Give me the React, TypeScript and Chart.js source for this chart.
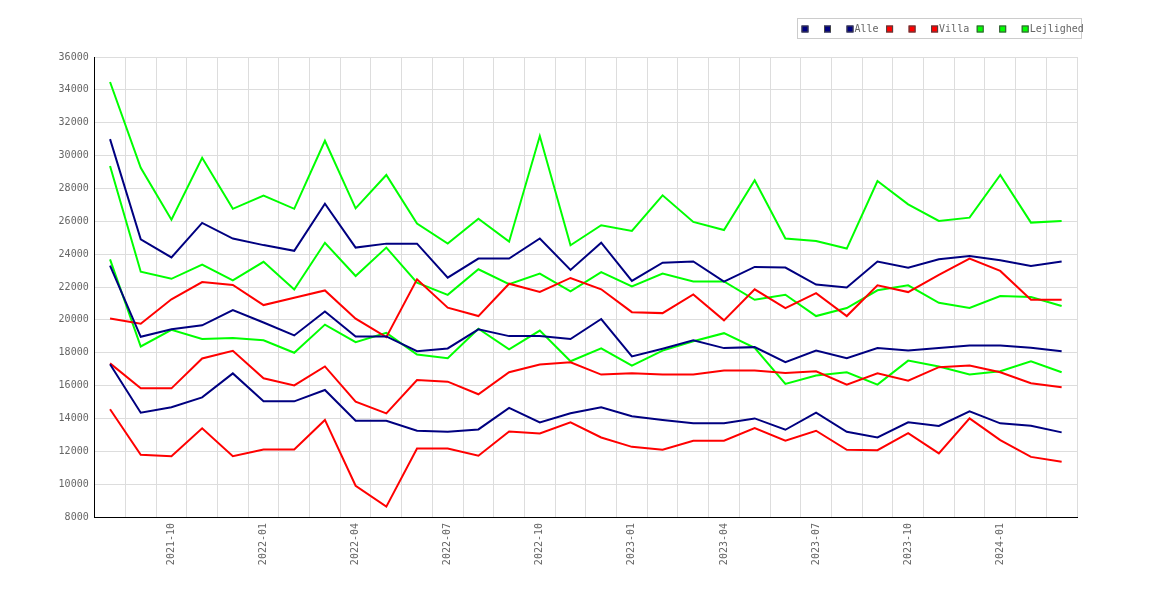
import React, { useEffect, useRef } from 'react';
import { Chart, registerables } from 'chart.js';

Chart.register(...registerables);

// months on the x axis (one point per month)
const MONTHS = [
  '2021-08', '2021-09', '2021-10', '2021-11', '2021-12',
  '2022-01', '2022-02', '2022-03', '2022-04', '2022-05', '2022-06',
  '2022-07', '2022-08', '2022-09', '2022-10', '2022-11', '2022-12',
  '2023-01', '2023-02', '2023-03', '2023-04', '2023-05', '2023-06',
  '2023-07', '2023-08', '2023-09', '2023-10', '2023-11', '2023-12',
  '2024-01', '2024-02', '2024-03',
];

// Alle (high / mid / low)
const ALLE_HIGH = [31000, 24900, 23800, 25900, 24950, 24550, 24200, 27070, 24400, 24640, 24640, 22570, 23730, 23730, 24950, 23040, 24700, 22370, 23480, 23550, 22330, 23220, 23180, 22150, 21970, 23550, 23180, 23690, 23890, 23630, 23280, 23550];
const ALLE_MID = [23300, 18970, 19430, 19670, 20600, 19840, 19050, 20510, 18990, 18990, 18090, 18260, 19420, 19010, 19010, 18830, 20050, 17770, 18240, 18750, 18280, 18340, 17420, 18130, 17670, 18280, 18130, 18280, 18440, 18440, 18300, 18090];
const ALLE_LOW = [17300, 14350, 14680, 15280, 16740, 15040, 15040, 15730, 13860, 13860, 13250, 13190, 13330, 14640, 13760, 14310, 14680, 14130, 13900, 13700, 13700, 14000, 13310, 14350, 13190, 12840, 13760, 13540, 14430, 13700, 13560, 13150];

// Villa
const VILLA_HIGH = [20080, 19760, 21250, 22300, 22120, 20900, 21350, 21790, 20070, 18950, 22470, 20740, 20230, 22200, 21700, 22550, 21860, 20470, 20410, 21550, 19970, 21860, 20720, 21630, 20230, 22100, 21690, 22740, 23730, 22980, 21230, 21230];
const VILLA_MID = [17350, 15830, 15830, 17650, 18120, 16440, 16010, 17165, 15020, 14310, 16340, 16240, 15470, 16810, 17280, 17420, 16670, 16750, 16670, 16670, 16910, 16910, 16770, 16870, 16060, 16750, 16300, 17120, 17220, 16810, 16140, 15900];
const VILLA_LOW = [14560, 11790, 11700, 13400, 11700, 12110, 12110, 13910, 9900, 8630, 12170, 12170, 11730, 13210, 13090, 13760, 12840, 12270, 12090, 12640, 12640, 13410, 12640, 13250, 12090, 12070, 13110, 11870, 14000, 12680, 11660, 11360];

// Lejlighed
const LEJL_HIGH = [34480, 29260, 26100, 29870, 26760, 27570, 26760, 30900, 26790, 28820, 25860, 24640, 26160, 24760, 31190, 24540, 25760, 25410, 27580, 25960, 25470, 28500, 24950, 24800, 24340, 28450, 27030, 26020, 26220, 28820, 25920, 26020];
const LEJL_MID = [29360, 22930, 22500, 23370, 22400, 23530, 21850, 24690, 22670, 24400, 22270, 21520, 23080, 22170, 22820, 21740, 22900, 22030, 22820, 22340, 22340, 21220, 21530, 20230, 20720, 21800, 22100, 21040, 20720, 21450, 21390, 20840];
const LEJL_LOW = [23680, 18380, 19390, 18840, 18900, 18760, 18000, 19710, 18640, 19210, 17890, 17670, 19460, 18200, 19350, 17480, 18270, 17220, 18130, 18700, 19190, 18300, 16100, 16610, 16810, 16060, 17520, 17160, 16670, 16870, 17480, 16810];

const NAVY = '#000080';
const RED = '#ff0000';
const GREEN = '#00ff00';
const FONT = '"DejaVu Sans Mono", monospace';
const TEXT = '#666';

// boxed legend in the top right corner, as in the original
const boxLegend = {
  id: 'boxLegend',
  afterDraw(chart: Chart) {
    const ctx = chart.ctx;
    const sets = chart.data.datasets;
    ctx.save();
    ctx.font = '10px ' + FONT;
    ctx.strokeStyle = '#ccc';
    ctx.lineWidth = 1;
    ctx.strokeRect(797.5, 18.5, 284, 20);
    let x = 801.5;
    const y = 29;
    sets.forEach((ds: any) => {
      ctx.fillStyle = ds.borderColor;
      ctx.fillRect(x, y - 3.5, 7, 7);
      ctx.strokeStyle = '#444';
      ctx.strokeRect(x + 0.5, y - 3, 6, 6);
      if (ds.label) {
        ctx.fillStyle = TEXT;
        ctx.textBaseline = 'middle';
        ctx.textAlign = 'left';
        ctx.fillText(ds.label, x + 8, y + 0.5);
        x += 8 + ctx.measureText(ds.label).width + 7.5;
      } else {
        x += 22.5;
      }
    });
    ctx.restore();
  },
};

const line = (label: string, data: number[], color: string) => ({
  label,
  data,
  borderColor: color,
  backgroundColor: color,
  borderWidth: 2,
  pointRadius: 0,
  tension: 0,
  fill: false,
});

const App: React.FC = () => {
  const canvasRef = useRef<HTMLCanvasElement>(null);

  useEffect(() => {
    const ctx = canvasRef.current?.getContext('2d');
    if (!ctx) return;

    const chart = new Chart(ctx, {
      type: 'line',
      data: {
        labels: MONTHS,
        datasets: [
          line('', ALLE_HIGH, NAVY),
          line('', ALLE_MID, NAVY),
          line('Alle', ALLE_LOW, NAVY),
          line('', VILLA_HIGH, RED),
          line('', VILLA_MID, RED),
          line('Villa', VILLA_LOW, RED),
          line('', LEJL_HIGH, GREEN),
          line('', LEJL_MID, GREEN),
          line('Lejlighed', LEJL_LOW, GREEN),
        ],
      },
      options: {
        responsive: false,
        animation: false,
        layout: { padding: { top: 57, right: 93, left: 0, bottom: 0 } },
        plugins: {
          legend: { display: false },
          tooltip: { enabled: false },
        },
        scales: {
          x: {
            offset: true,
            grid: { offset: true, color: '#ddd', drawTicks: false },
            border: { color: '#000' },
            ticks: {
              autoSkip: false,
              minRotation: 90,
              maxRotation: 90,
              padding: 6,
              color: TEXT,
              font: { family: FONT, size: 10 },
              callback: (_v: any, i: number) => {
                const m = MONTHS[i].slice(5);
                return ['01', '04', '07', '10'].includes(m) ? MONTHS[i] : '';
              },
            },
            afterFit: (s: any) => { s.height = 83; },
          },
          y: {
            min: 8000,
            max: 36000,
            grid: { color: '#ddd', drawTicks: false },
            border: { color: '#000' },
            ticks: {
              stepSize: 2000,
              padding: 6,
              color: TEXT,
              font: { family: FONT, size: 10 },
              callback: (v: any) => String(v),
            },
            afterFit: (s: any) => { s.width = 94.7; },
          },
        },
      },
      plugins: [boxLegend],
    });

    return () => chart.destroy();
  }, []);

  return (
    <div style={{ position: 'fixed', left: 0, top: 0, width: 1170, height: 600, background: '#fff' }}>
      <canvas ref={canvasRef} width={1170} height={600} style={{ display: 'block' }} />
    </div>
  );
};

export default App;
